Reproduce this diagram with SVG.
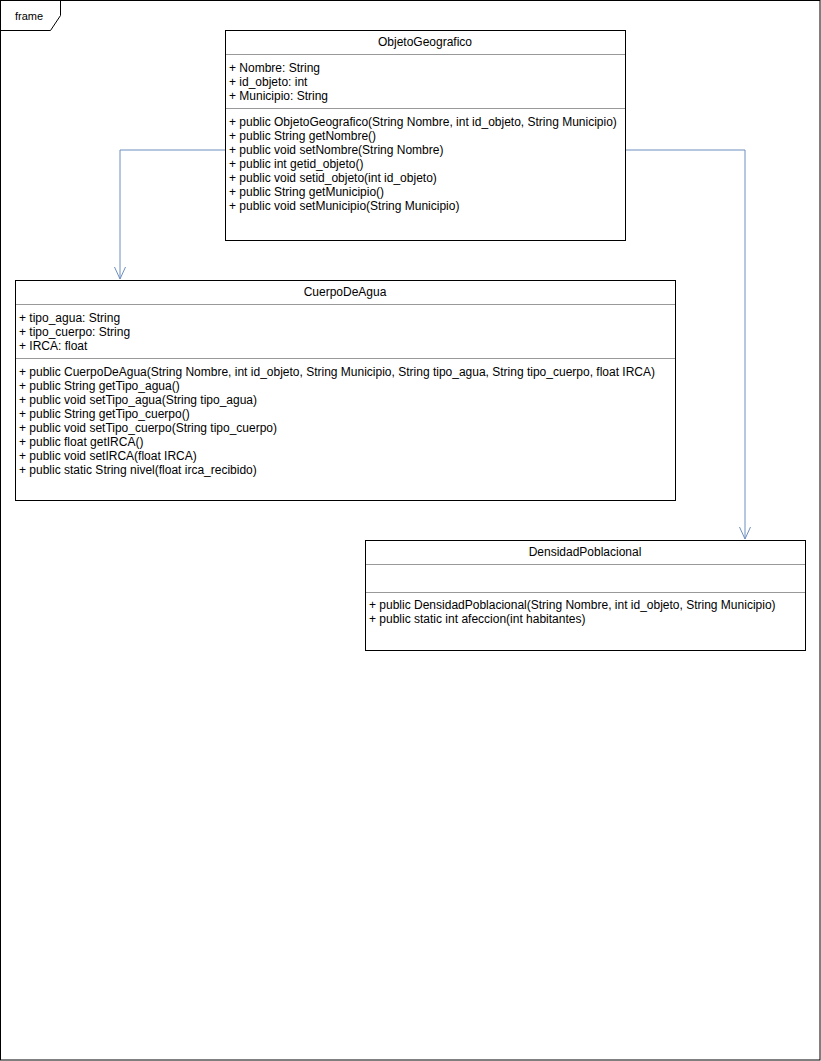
<svg xmlns="http://www.w3.org/2000/svg" width="821" height="1061" viewBox="0 0 821 1061">
<style>
text{font-family:"Liberation Sans",Arial,sans-serif;font-size:12px;fill:#000}
.t{text-anchor:middle}
.box{fill:#fff;stroke:#000;stroke-width:1}
.sep{stroke:#999;stroke-width:1}
.edge{fill:none;stroke:#6c8ebf;stroke-width:1}
</style>
<defs>
<marker id="open" viewBox="0 0 14 12" refX="13" refY="6" markerWidth="14" markerHeight="12" markerUnits="userSpaceOnUse" orient="auto">
<path d="M1,0.5 L13,6 L1,11.5" fill="none" stroke="#6c8ebf" stroke-width="1"/>
</marker>
</defs>
<rect x="0" y="0" width="821" height="1061" fill="#fff"/>
<g id="frame">
<rect x="0.5" y="0.5" width="819.5" height="1059.5" fill="none" stroke="#000"/>
<path d="M0.5,30.5 L50.5,30.5 L60.5,15.5 L60.5,0.5" fill="none" stroke="#000"/>
<text x="15" y="20" style="font-size:11px">frame</text>
</g>
<g id="connectors">
<path class="edge" d="M225,150 L120,150 L120,279" marker-end="url(#open)"/>
<path class="edge" d="M625,150 L745,150 L745,539" marker-end="url(#open)"/>
</g>
<g id="ObjetoGeografico">
<rect class="box" x="225.5" y="30.5" width="400" height="210"/>
<line class="sep" x1="226" y1="54.5" x2="625" y2="54.5"/>
<line class="sep" x1="226" y1="108.5" x2="625" y2="108.5"/>
<text class="t" x="425" y="46">ObjetoGeografico</text>
<text x="229" y="72">+ Nombre: String</text>
<text x="229" y="86">+ id_objeto: int</text>
<text x="229" y="100">+ Municipio: String</text>
<text x="229" y="126">+ public ObjetoGeografico(String Nombre, int id_objeto, String Municipio)</text>
<text x="229" y="140">+ public String getNombre()</text>
<text x="229" y="154">+ public void setNombre(String Nombre)</text>
<text x="229" y="168">+ public int getid_objeto()</text>
<text x="229" y="182">+ public void setid_objeto(int id_objeto)</text>
<text x="229" y="196">+ public String getMunicipio()</text>
<text x="229" y="210">+ public void setMunicipio(String Municipio)</text>
</g>
<g id="CuerpoDeAgua">
<rect class="box" x="15.5" y="280.5" width="660" height="220"/>
<line class="sep" x1="16" y1="304.5" x2="675" y2="304.5"/>
<line class="sep" x1="16" y1="358.5" x2="675" y2="358.5"/>
<text class="t" x="345" y="296">CuerpoDeAgua</text>
<text x="19" y="322">+ tipo_agua: String</text>
<text x="19" y="336">+ tipo_cuerpo: String</text>
<text x="19" y="350">+ IRCA: float</text>
<text x="19" y="376">+ public CuerpoDeAgua(String Nombre, int id_objeto, String Municipio, String tipo_agua, String tipo_cuerpo, float IRCA)</text>
<text x="19" y="390">+ public String getTipo_agua()</text>
<text x="19" y="404">+ public void setTipo_agua(String tipo_agua)</text>
<text x="19" y="418">+ public String getTipo_cuerpo()</text>
<text x="19" y="432">+ public void setTipo_cuerpo(String tipo_cuerpo)</text>
<text x="19" y="446">+ public float getIRCA()</text>
<text x="19" y="460">+ public void setIRCA(float IRCA)</text>
<text x="19" y="474">+ public static String nivel(float irca_recibido)</text>
</g>
<g id="DensidadPoblacional">
<rect class="box" x="365.5" y="540.5" width="440" height="110"/>
<line class="sep" x1="366" y1="564.5" x2="805" y2="564.5"/>
<line class="sep" x1="366" y1="592.5" x2="805" y2="592.5"/>
<text class="t" x="585" y="556">DensidadPoblacional</text>
<text x="369" y="609">+ public DensidadPoblacional(String Nombre, int id_objeto, String Municipio)</text>
<text x="369" y="623">+ public static int afeccion(int habitantes)</text>
</g>
</svg>
